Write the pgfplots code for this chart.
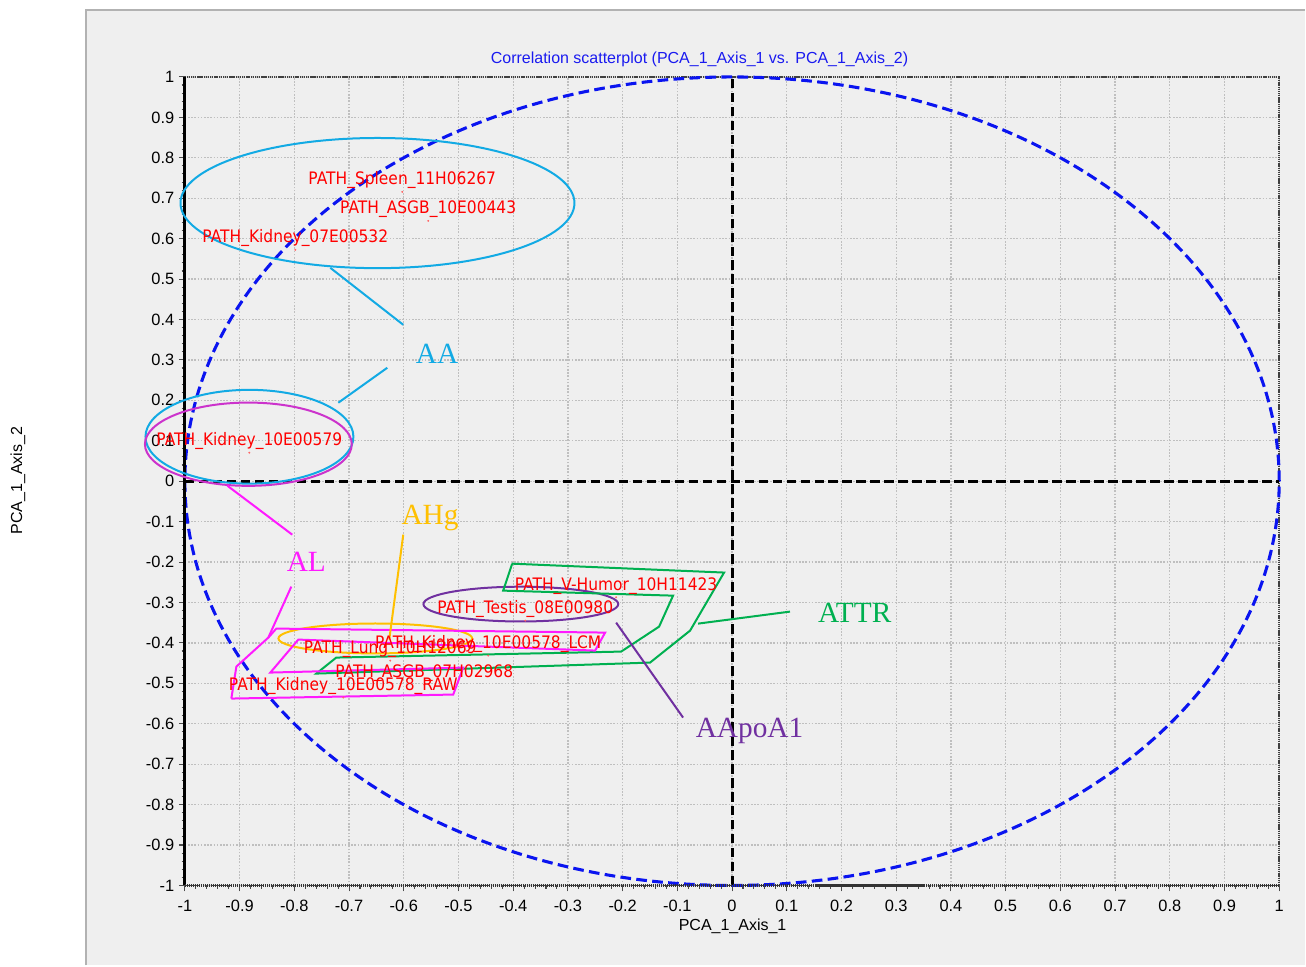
\documentclass[border=0pt]{standalone}
\usepackage{pgfplots}
\pgfplotsset{compat=1.18}
\usepackage{fontspec}
\setmainfont{Liberation Sans}
\newfontfamily\lblfont[FakeStretch=0.9]{DejaVu Sans}
\newfontfamily\seriffont{Liberation Serif}
\definecolor{panel}{HTML}{EFEFEF}
\definecolor{cyanc}{HTML}{12AAE4}
\definecolor{magc}{HTML}{FF1AFF}
\definecolor{mage}{HTML}{CC33CC}
\definecolor{orangec}{HTML}{FFC000}
\definecolor{purplec}{HTML}{7030A0}
\definecolor{greenc}{HTML}{00B050}
\definecolor{titleblue}{HTML}{1A1AF0}
\definecolor{circblue}{HTML}{0A14F0}
\begin{document}
\begin{tikzpicture}[x=0.75pt,y=0.75pt]
\fill[white] (0,0) rectangle (1306,966);
\fill[panel] (86,0) rectangle (1306,956);
\draw[gray!60, line width=1.2pt] (86,0) -- (86,956) -- (1306,956);
\begin{axis}[
  at={(138.75pt,60pt)}, anchor=south west,
  scale only axis, width=821.25pt, height=606.75pt,
  xmin=-1, xmax=1, ymin=-1, ymax=1,
  clip=false,
  axis background/.style={fill=panel},
  xtick={-1,-0.9,-0.8,-0.7,-0.6,-0.5,-0.4,-0.3,-0.2,-0.1,0,0.1,0.2,0.3,0.4,0.5,0.6,0.7,0.8,0.9,1},
  ytick={-1,-0.9,-0.8,-0.7,-0.6,-0.5,-0.4,-0.3,-0.2,-0.1,0,0.1,0.2,0.3,0.4,0.5,0.6,0.7,0.8,0.9,1},
  minor x tick num=4,
  minor y tick num=4,
  tick align=outside,
  major tick length=4.5pt,
  minor tick length=2.5pt,
  tick style={gray!60!black, line width=0.8pt},
  grid=major,
  major grid style={gray!50, line width=0.9pt, dash pattern=on 1.2pt off 1.2pt},
  axis line style={gray!50!black, line width=1.3pt, dash pattern=on 1pt off 0.6pt},
  xtick pos=bottom, ytick pos=left,
  xticklabel style={font=\fontsize{12.3}{14}\selectfont, yshift=-3pt},
  yticklabel style={font=\fontsize{12.3}{14}\selectfont},
  /pgf/number format/assume math mode=true,
  xlabel={PCA\_1\_Axis\_1},
  ylabel={PCA\_1\_Axis\_2},
  label style={font=\fontsize{12}{14}\selectfont},
  xlabel style={at={(axis description cs:0.5005,-0.0507)}, anchor=center},
  ylabel style={at={(axis description cs:-0.1525,0.5006)}, anchor=center, rotate=0},
  title={Correlation scatterplot (PCA\_1\_Axis\_1 vs. PCA\_1\_Axis\_2)},
  title style={at={(axis description cs:0.4703,1.0222)}, anchor=center, yshift=-6pt, font=\fontsize{12}{14}\selectfont, text=titleblue},
]
% correlation circle and zero lines
\draw[circblue, line width=2.3pt, dash pattern=on 8pt off 4pt] (axis cs:0,0) ellipse [x radius=1, y radius=1];
\draw[black, line width=2.2pt, dash pattern=on 7pt off 3.5pt] (axis cs:0,-1) -- (axis cs:0,1);
\draw[black, line width=2.2pt, dash pattern=on 7pt off 3.5pt] (axis cs:-1,0) -- (axis cs:1,0);
\draw[black, line width=2.2pt] (axis cs:-1,-1) -- (axis cs:-1,1);
\draw[gray!40!black, line width=2.4pt, dash pattern=on 0.8pt off 0.7pt] (axis cs:-1,-1) -- (axis cs:1,-1);

% group annotations
\draw[cyanc, line width=1.5pt] (axis cs:-0.648,0.688) ellipse [x radius=0.36, y radius=0.161];
\draw[cyanc, line width=1.5pt] (axis cs:-0.882,0.110) ellipse [x radius=0.19, y radius=0.116];
\draw[mage, line width=1.5pt] (axis cs:-0.884,0.0915) ellipse [x radius=0.189, y radius=0.103];
\draw[orangec, line width=1.5pt] (axis cs:-0.652,-0.389) ellipse [x radius=0.177, y radius=0.037];
\draw[purplec, line width=1.5pt] (axis cs:-0.386,-0.304) ellipse [x radius=0.178, y radius=0.043];

\addplot[greenc, line width=1.5pt, no marks] coordinates {
(-0.4018,-0.204) (-0.0146,-0.226) (-0.0767,-0.3696) (-0.1498,-0.4487) (-0.7598,-0.4759)
(-0.7233,-0.4363) (-0.2027,-0.4215) (-0.1333,-0.3597) (-0.1078,-0.2831) (-0.4183,-0.2707) (-0.4018,-0.204)};
\addplot[magc, line width=1.5pt, no marks] coordinates {
(-0.9151,-0.5377) (-0.9059,-0.4586) (-0.8475,-0.3869) (-0.8329,-0.3646) (-0.2320,-0.3745)
(-0.2502,-0.4190) (-0.7927,-0.3918) (-0.8438,-0.4734) (-0.4913,-0.4611) (-0.5096,-0.5278) (-0.9151,-0.5377)};

\addplot[cyanc, line width=1.5pt, no marks] coordinates {(-0.7342,0.5278) (-0.6009,0.3869)};
\addplot[cyanc, line width=1.5pt, no marks] coordinates {(-0.7196,0.1941) (-0.6301,0.2806)};
\addplot[magc, line width=1.5pt, no marks] coordinates {(-0.9224,-0.0111) (-0.8037,-0.1323)};
\addplot[magc, line width=1.5pt, no marks] coordinates {(-0.8055,-0.2608) (-0.8475,-0.3869)};
\addplot[orangec, line width=1.5pt, no marks] coordinates {(-0.6009,-0.1323) (-0.6265,-0.3918)};
\addplot[purplec, line width=1.5pt, no marks] coordinates {(-0.2119,-0.3498) (-0.0895,-0.5847)};
\addplot[greenc, line width=1.5pt, no marks] coordinates {(-0.0621,-0.3523) (0.1059,-0.3226)};

\node[font=\seriffont\fontsize{22}{24}\selectfont, text=cyanc, anchor=base] at (axis cs:-0.539,0.2905) {AA};
\node[font=\seriffont\fontsize{22}{24}\selectfont, text=orangec, anchor=base] at (axis cs:-0.552,-0.1075) {AHg};
\node[font=\seriffont\fontsize{22}{24}\selectfont, text=magc, anchor=base] at (axis cs:-0.778,-0.2237) {AL};
\node[font=\seriffont\fontsize{22}{24}\selectfont, text=greenc, anchor=base] at (axis cs:0.2241,-0.349) {ATTR};
\node[font=\seriffont\fontsize{22}{24}\selectfont, text=purplec, anchor=base] at (axis cs:0.032,-0.634) {AApoA1};

% variables
\addplot[only marks, mark=*, mark size=0.5pt, color=red!60, point meta=explicit symbolic,
  nodes near coords,
  every node near coord/.append style={font=\lblfont\fontsize{12.9}{14}\selectfont, text=red, anchor=base, inner sep=0pt, yshift=5.25pt}]
coordinates {
(-0.6027,0.7157) [PATH\_Spleen\_11H06267]
(-0.5553,0.6440) [PATH\_ASGB\_10E00443]
(-0.7982,0.5723) [PATH\_Kidney\_07E00532]
(-0.8822,0.0705) [PATH\_Kidney\_10E00579]
(-0.2119,-0.2870) [PATH\_V-Humor\_10H11423]
(-0.3780,-0.3449) [PATH\_Testis\_08E00980]
(-0.6247,-0.4438) [PATH\_Lung\_10H12069]
(-0.4457,-0.4314) [PATH\_Kidney\_10E00578\_LCM]
(-0.5626,-0.5031) [PATH\_ASGB\_07H02968]
(-0.7105,-0.5352) [PATH\_Kidney\_10E00578\_RAW]
};
\end{axis}
\end{tikzpicture}
\end{document}
